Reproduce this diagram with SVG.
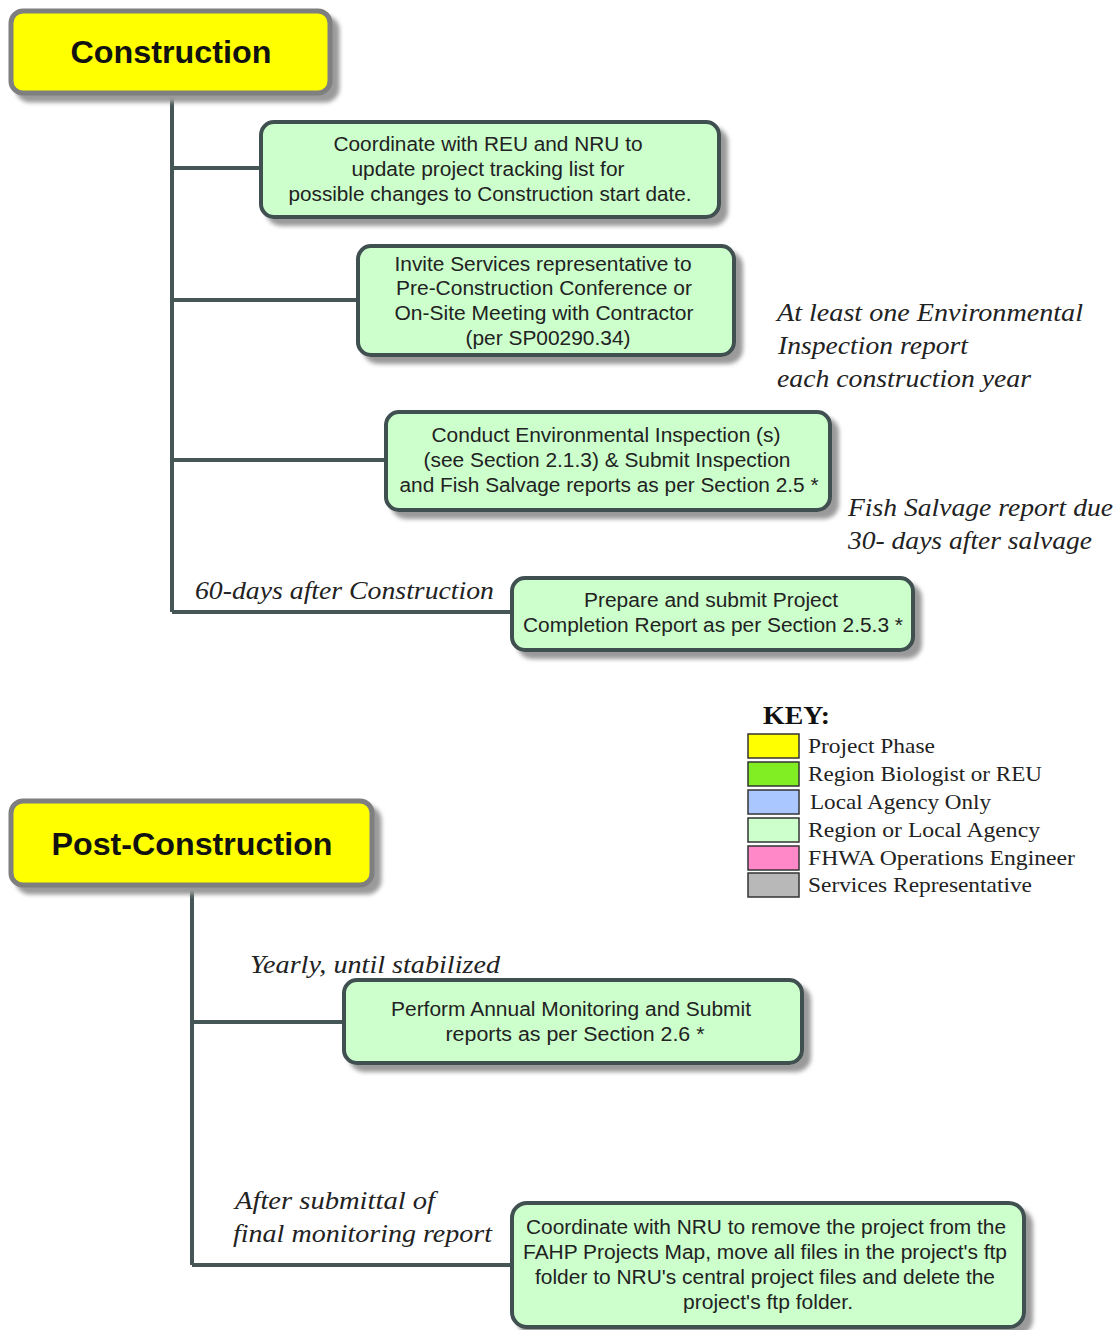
<svg xmlns="http://www.w3.org/2000/svg" width="1120" height="1330" viewBox="0 0 1120 1330">
<defs>
<filter id="sh" x="-10%" y="-10%" width="130%" height="140%">
<feGaussianBlur in="SourceAlpha" stdDeviation="2"/>
<feOffset dx="7" dy="7" result="o"/>
<feFlood flood-color="#9a9a9a"/>
<feComposite in2="o" operator="in"/>
<feMerge><feMergeNode/><feMergeNode in="SourceGraphic"/></feMerge>
</filter>
</defs>
<style>
.phase{fill:#ffff00;stroke:#7f7f7f;stroke-width:5;filter:url(#sh)}
.task{fill:#ccffcc;stroke:#3f4f4f;stroke-width:4;filter:url(#sh)}
.pt{font-family:"Liberation Sans",Arial,sans-serif;font-weight:bold;font-size:31px;fill:#111;text-anchor:middle}
.tt{font-family:"Liberation Sans",Arial,sans-serif;font-size:20px;fill:#222;text-anchor:middle}
.ann{font-family:"Liberation Serif","Times New Roman",serif;font-style:italic;font-size:25px;fill:#222}
.key{font-family:"Liberation Serif","Times New Roman",serif;font-size:21px;fill:#222}
.conn{stroke:#465656;stroke-width:4;fill:none}
.sw{stroke:#333;stroke-width:1.5}
</style>
<g id="connectors">
<path class="conn" d="M172 95V612M172 168H262M172 300H358M172 460H386M172 612H512"/>
<path class="conn" d="M192 888V1265M192 1022H344M192 1265H512"/>
</g>
<g id="construction">
<rect class="phase" x="11" y="11" width="319" height="82" rx="12"/>
<text class="pt" x="171" y="63" textLength="201" lengthAdjust="spacingAndGlyphs">Construction</text>
</g>
<g id="task1">
<rect class="task" x="261" y="122" width="458" height="95" rx="13"/>
<text class="tt" x="488" y="151" textLength="309" lengthAdjust="spacingAndGlyphs">Coordinate with REU and NRU to</text>
<text class="tt" x="488" y="176" textLength="273" lengthAdjust="spacingAndGlyphs">update project tracking list for</text>
<text class="tt" x="490" y="201" textLength="403" lengthAdjust="spacingAndGlyphs">possible changes to Construction start date.</text>
</g>
<g id="task2">
<rect class="task" x="358" y="246" width="376" height="109" rx="13"/>
<text class="tt" x="543" y="271" textLength="297" lengthAdjust="spacingAndGlyphs">Invite Services representative to</text>
<text class="tt" x="544" y="295" textLength="296" lengthAdjust="spacingAndGlyphs">Pre-Construction Conference or</text>
<text class="tt" x="544" y="320" textLength="299" lengthAdjust="spacingAndGlyphs">On-Site Meeting with Contractor</text>
<text class="tt" x="548" y="345" textLength="165" lengthAdjust="spacingAndGlyphs">(per SP00290.34)</text>
</g>
<g id="task3">
<rect class="task" x="386" y="412" width="444" height="98" rx="13"/>
<text class="tt" x="606" y="442" textLength="349" lengthAdjust="spacingAndGlyphs">Conduct Environmental Inspection (s)</text>
<text class="tt" x="607" y="467" textLength="367" lengthAdjust="spacingAndGlyphs">(see Section 2.1.3) &amp; Submit Inspection</text>
<text class="tt" x="609" y="492" textLength="419" lengthAdjust="spacingAndGlyphs">and Fish Salvage reports as per Section 2.5 *</text>
</g>
<g id="task4">
<rect class="task" x="512" y="578" width="401" height="72" rx="13"/>
<text class="tt" x="711" y="607" textLength="254" lengthAdjust="spacingAndGlyphs">Prepare and submit Project</text>
<text class="tt" x="713" y="632" textLength="380" lengthAdjust="spacingAndGlyphs">Completion Report as per Section 2.5.3 *</text>
</g>
<g id="annotations1">
<text class="ann" x="777" y="321" textLength="306" lengthAdjust="spacingAndGlyphs">At least one Environmental</text>
<text class="ann" x="778" y="354" textLength="190" lengthAdjust="spacingAndGlyphs">Inspection report</text>
<text class="ann" x="777" y="387" textLength="254" lengthAdjust="spacingAndGlyphs">each construction year</text>
<text class="ann" x="848" y="516" textLength="265" lengthAdjust="spacingAndGlyphs">Fish Salvage report due</text>
<text class="ann" x="848" y="549" textLength="244" lengthAdjust="spacingAndGlyphs">30- days after salvage</text>
<text class="ann" x="195" y="599" textLength="299" lengthAdjust="spacingAndGlyphs">60-days after Construction</text>
</g>
<g id="legend">
<text x="763" y="724" textLength="67" lengthAdjust="spacingAndGlyphs" style="font-family:'Liberation Serif','Times New Roman',serif;font-weight:bold;font-size:25px;fill:#111">KEY:</text>
<rect class="sw" x="748" y="734" width="51" height="24" fill="#ffff00"/>
<rect class="sw" x="748" y="762" width="51" height="24" fill="#80ee22"/>
<rect class="sw" x="748" y="790" width="51" height="24" fill="#aac8ff"/>
<rect class="sw" x="748" y="818" width="51" height="24" fill="#ccffcc"/>
<rect class="sw" x="748" y="846" width="51" height="24" fill="#ff88c8"/>
<rect class="sw" x="748" y="873" width="51" height="24" fill="#b8b8b8"/>
<text class="key" x="808" y="753" textLength="127" lengthAdjust="spacingAndGlyphs">Project Phase</text>
<text class="key" x="808" y="781" textLength="234" lengthAdjust="spacingAndGlyphs">Region Biologist or REU</text>
<text class="key" x="810" y="809" textLength="181" lengthAdjust="spacingAndGlyphs">Local Agency Only</text>
<text class="key" x="808" y="837" textLength="232" lengthAdjust="spacingAndGlyphs">Region or Local Agency</text>
<text class="key" x="808" y="865" textLength="267" lengthAdjust="spacingAndGlyphs">FHWA Operations Engineer</text>
<text class="key" x="808" y="892" textLength="224" lengthAdjust="spacingAndGlyphs">Services Representative</text>
</g>
<g id="post-construction">
<rect class="phase" x="11" y="801" width="361" height="84" rx="12"/>
<text class="pt" x="192" y="855" textLength="281" lengthAdjust="spacingAndGlyphs">Post-Construction</text>
</g>
<g id="task5">
<rect class="task" x="344" y="980" width="458" height="83" rx="13"/>
<text class="tt" x="571" y="1016" textLength="360" lengthAdjust="spacingAndGlyphs">Perform Annual Monitoring and Submit</text>
<text class="tt" x="575" y="1041" textLength="259" lengthAdjust="spacingAndGlyphs">reports as per Section 2.6  *</text>
</g>
<g id="task6">
<rect class="task" x="512" y="1203" width="512" height="124" rx="15"/>
<text class="tt" x="766" y="1234" textLength="480" lengthAdjust="spacingAndGlyphs">Coordinate with NRU to remove the project from the</text>
<text class="tt" x="765" y="1259" textLength="484" lengthAdjust="spacingAndGlyphs">FAHP Projects Map, move all files in the project's ftp</text>
<text class="tt" x="765" y="1284" textLength="460" lengthAdjust="spacingAndGlyphs">folder to NRU's central project files and delete the</text>
<text class="tt" x="768" y="1309" textLength="170" lengthAdjust="spacingAndGlyphs">project's ftp folder.</text>
</g>
<g id="annotations2">
<text class="ann" x="250" y="973" textLength="250" lengthAdjust="spacingAndGlyphs">Yearly, until stabilized</text>
<text class="ann" x="235" y="1209" textLength="200" lengthAdjust="spacingAndGlyphs">After submittal of</text>
<text class="ann" x="233" y="1242" textLength="259" lengthAdjust="spacingAndGlyphs">final monitoring report</text>
</g>
</svg>
